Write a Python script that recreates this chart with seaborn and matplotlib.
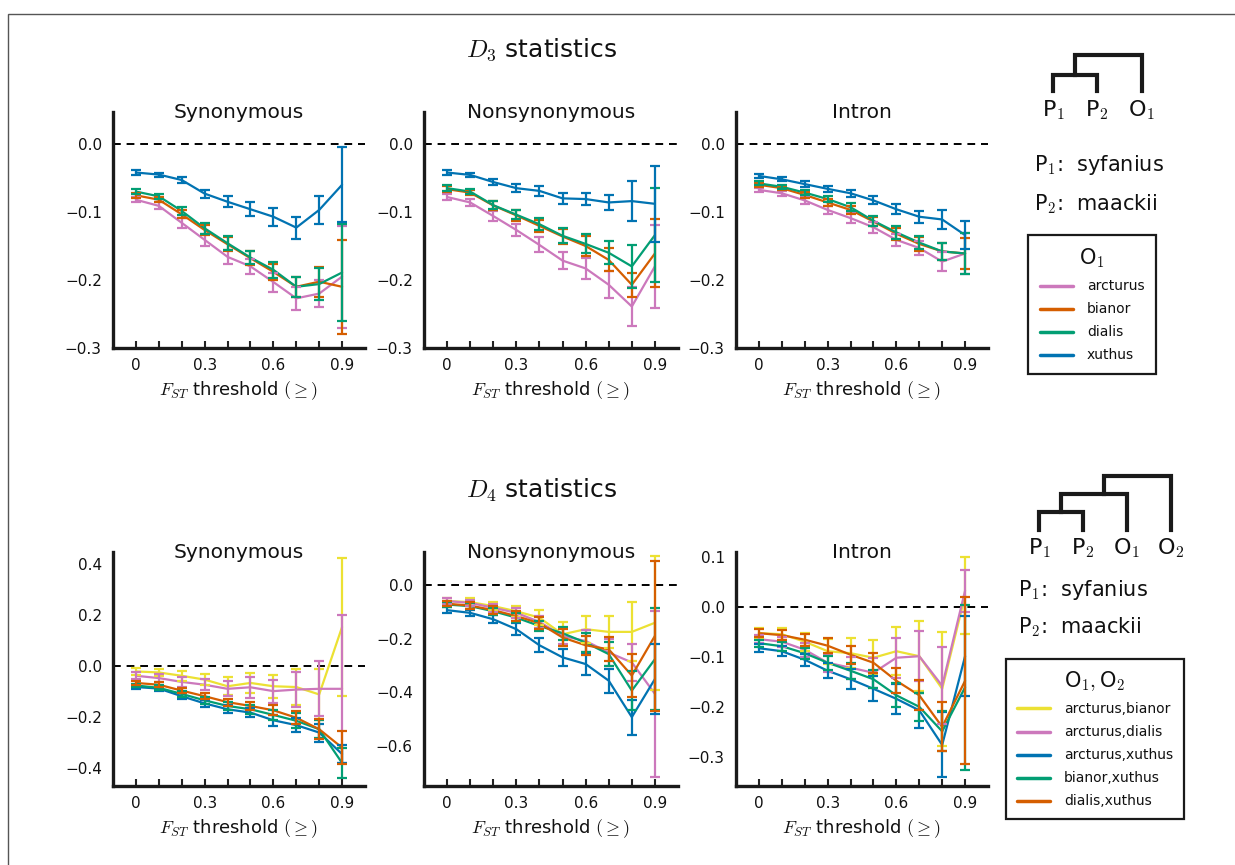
import matplotlib
matplotlib.use('Agg')
import matplotlib.pyplot as plt
import pandas as pd
import seaborn as sns
from matplotlib.lines import Line2D
from matplotlib.patches import Rectangle


# ============================================
# Data
# ============================================
FST = [0.0, 0.1, 0.2, 0.3, 0.4, 0.5, 0.6, 0.7, 0.8, 0.9]
FST_LABELS = ['0', '', '', '0.3', '', '', '0.6', '', '', '0.9']
PANELS = ['Synonymous', 'Nonsynonymous', 'Intron']

D3_GROUPS = ['arcturus', 'bianor', 'dialis', 'xuthus']
D4_GROUPS = ['arcturus,bianor', 'arcturus,dialis', 'arcturus,xuthus',
             'bianor,xuthus', 'dialis,xuthus']

# D3 — rows follow D3_GROUPS
d3_syn = [
    [-0.082, -0.091, -0.116, -0.141, -0.166, -0.180, -0.203, -0.227, -0.220, -0.195],
    [-0.0755, -0.082, -0.1035, -0.1265, -0.1475, -0.168, -0.188, -0.210, -0.2025, -0.210],
    [-0.070, -0.077, -0.0985, -0.124, -0.146, -0.167, -0.185, -0.210, -0.206, -0.189],
    [-0.042, -0.045, -0.053, -0.073, -0.085, -0.096, -0.107, -0.123, -0.097, -0.060],
]
d3_syn_err = [
    [0.004, 0.005, 0.007, 0.009, 0.010, 0.011, 0.014, 0.017, 0.020, 0.075],
    [0.004, 0.004, 0.006, 0.008, 0.010, 0.010, 0.012, 0.015, 0.022, 0.069],
    [0.004, 0.004, 0.006, 0.008, 0.010, 0.010, 0.012, 0.015, 0.024, 0.071],
    [0.003, 0.003, 0.004, 0.006, 0.008, 0.010, 0.013, 0.016, 0.020, 0.055],
]
d3_nonsyn = [
    [-0.078, -0.086, -0.106, -0.1265, -0.1485, -0.1715, -0.183, -0.207, -0.239, -0.180],
    [-0.0665, -0.0715, -0.0905, -0.105, -0.1205, -0.136, -0.150, -0.1705, -0.207, -0.161],
    [-0.065, -0.070, -0.090, -0.104, -0.118, -0.135, -0.147, -0.160, -0.180, -0.134],
    [-0.042, -0.0455, -0.056, -0.065, -0.069, -0.080, -0.081, -0.086, -0.084, -0.088],
]
d3_nonsyn_err = [
    [0.004, 0.005, 0.007, 0.009, 0.011, 0.012, 0.016, 0.020, 0.029, 0.061],
    [0.004, 0.004, 0.006, 0.008, 0.009, 0.011, 0.014, 0.017, 0.018, 0.050],
    [0.004, 0.004, 0.006, 0.007, 0.009, 0.011, 0.014, 0.017, 0.032, 0.069],
    [0.003, 0.003, 0.004, 0.006, 0.007, 0.008, 0.009, 0.011, 0.030, 0.056],
]
d3_intron = [
    [-0.0675, -0.0725, -0.083, -0.097, -0.109, -0.1225, -0.141, -0.153, -0.173, -0.161],
    [-0.060, -0.065, -0.075, -0.086, -0.097, -0.114, -0.132, -0.147, -0.158, -0.161],
    [-0.058, -0.063, -0.0715, -0.081, -0.093, -0.113, -0.130, -0.145, -0.158, -0.161],
    [-0.047, -0.052, -0.059, -0.066, -0.0725, -0.083, -0.096, -0.107, -0.111, -0.134],
]
d3_intron_err = [
    [0.003, 0.004, 0.005, 0.006, 0.007, 0.008, 0.009, 0.010, 0.014, 0.030],
    [0.003, 0.003, 0.004, 0.005, 0.006, 0.007, 0.009, 0.010, 0.012, 0.023],
    [0.003, 0.003, 0.004, 0.005, 0.006, 0.007, 0.009, 0.010, 0.012, 0.030],
    [0.003, 0.003, 0.004, 0.004, 0.005, 0.006, 0.007, 0.009, 0.014, 0.021],
]

# D4 — rows follow D4_GROUPS
d4_syn = [
    [-0.022, -0.026, -0.039, -0.054, -0.080, -0.067, -0.080, -0.083, -0.112, 0.152],
    [-0.039, -0.048, -0.063, -0.074, -0.090, -0.084, -0.099, -0.093, -0.090, -0.090],
    [-0.083, -0.089, -0.119, -0.147, -0.170, -0.183, -0.213, -0.232, -0.261, -0.345],
    [-0.077, -0.086, -0.110, -0.135, -0.157, -0.170, -0.192, -0.215, -0.248, -0.380],
    [-0.067, -0.074, -0.097, -0.119, -0.142, -0.157, -0.174, -0.203, -0.248, -0.320],
]
d4_syn_err = [
    [0.013, 0.015, 0.020, 0.023, 0.035, 0.040, 0.045, 0.070, 0.100, 0.270],
    [0.013, 0.015, 0.018, 0.022, 0.030, 0.040, 0.045, 0.070, 0.107, 0.290],
    [0.008, 0.010, 0.012, 0.015, 0.016, 0.018, 0.022, 0.028, 0.035, 0.035],
    [0.007, 0.009, 0.011, 0.013, 0.015, 0.017, 0.020, 0.030, 0.035, 0.060],
    [0.008, 0.009, 0.011, 0.012, 0.014, 0.015, 0.020, 0.025, 0.040, 0.065],
]
d4_nonsyn = [
    [-0.060, -0.064, -0.079, -0.098, -0.122, -0.184, -0.165, -0.175, -0.175, -0.141],
    [-0.060, -0.067, -0.085, -0.104, -0.138, -0.190, -0.209, -0.252, -0.289, -0.406],
    [-0.094, -0.104, -0.128, -0.165, -0.225, -0.270, -0.295, -0.357, -0.493, -0.351],
    [-0.073, -0.079, -0.098, -0.122, -0.153, -0.180, -0.215, -0.258, -0.394, -0.277],
    [-0.070, -0.077, -0.094, -0.116, -0.143, -0.196, -0.225, -0.240, -0.338, -0.190],
]
d4_nonsyn_err = [
    [0.012, 0.014, 0.016, 0.020, 0.027, 0.045, 0.050, 0.060, 0.110, 0.250],
    [0.010, 0.012, 0.015, 0.018, 0.022, 0.030, 0.040, 0.050, 0.070, 0.310],
    [0.010, 0.012, 0.015, 0.022, 0.026, 0.032, 0.040, 0.045, 0.065, 0.130],
    [0.008, 0.010, 0.013, 0.016, 0.020, 0.025, 0.035, 0.045, 0.074, 0.190],
    [0.010, 0.012, 0.015, 0.018, 0.022, 0.030, 0.035, 0.045, 0.080, 0.280],
]
d4_intron = [
    [-0.052, -0.054, -0.069, -0.088, -0.092, -0.101, -0.088, -0.098, -0.163, 0.023],
    [-0.064, -0.069, -0.085, -0.111, -0.121, -0.131, -0.101, -0.098, -0.157, 0.033],
    [-0.082, -0.088, -0.105, -0.127, -0.144, -0.163, -0.183, -0.206, -0.275, -0.098],
    [-0.072, -0.078, -0.092, -0.111, -0.127, -0.144, -0.176, -0.199, -0.248, -0.160],
    [-0.052, -0.056, -0.065, -0.077, -0.095, -0.111, -0.147, -0.176, -0.239, -0.147],
]
d4_intron_err = [
    [0.010, 0.012, 0.018, 0.025, 0.030, 0.035, 0.048, 0.070, 0.114, 0.077],
    [0.008, 0.010, 0.014, 0.018, 0.022, 0.030, 0.040, 0.050, 0.077, 0.042],
    [0.008, 0.010, 0.012, 0.015, 0.020, 0.025, 0.030, 0.035, 0.065, 0.080],
    [0.007, 0.009, 0.011, 0.014, 0.016, 0.018, 0.024, 0.028, 0.040, 0.165],
    [0.008, 0.010, 0.012, 0.015, 0.018, 0.020, 0.025, 0.030, 0.049, 0.167],
]

D3_YTICKS = [[-0.3, -0.2, -0.1, 0.0]] * 3
D4_YTICKS = [[-0.4, -0.2, 0.0, 0.2, 0.4],
             [-0.6, -0.4, -0.2, 0.0],
             [-0.3, -0.2, -0.1, 0.0, 0.1]]


# ============================================
# Style
# ============================================
sns.set_theme(style='ticks')
plt.rcParams['font.family'] = ['DejaVu Sans']
plt.rcParams['mathtext.fontset'] = 'cm'
plt.rcParams['axes.unicode_minus'] = True
plt.rcParams['text.color'] = '#111111'
plt.rcParams['axes.labelcolor'] = '#111111'
plt.rcParams['xtick.labelcolor'] = '#111111'
plt.rcParams['ytick.labelcolor'] = '#111111'

cb = sns.color_palette('colorblind')
D3_COLORS = {'arcturus': cb[4], 'bianor': cb[3], 'dialis': cb[2], 'xuthus': cb[0]}
D4_COLORS = {'arcturus,bianor': cb[8], 'arcturus,dialis': cb[4],
             'arcturus,xuthus': cb[0], 'bianor,xuthus': cb[2],
             'dialis,xuthus': cb[3]}

W, H = 1235, 865
fig = plt.figure(figsize=(W / 100, H / 100), dpi=100)


def px_axes(left, top, right, bottom):
    return fig.add_axes([left / W, 1 - bottom / H,
                         (right - left) / W, (bottom - top) / H])


def draw_panel(ax, means, errs, groups, colors, title, ylim, yticks):
    rows = []
    for g, m in zip(groups, means):
        for x, y in zip(FST, m):
            rows.append({'fst': x, 'D': y, 'group': g})
    df = pd.DataFrame(rows)

    ax.axhline(0, color='black', ls='--', lw=1.4, dashes=(4, 3), zorder=0)
    sns.lineplot(data=df, x='fst', y='D', hue='group', hue_order=groups,
                 palette=colors, errorbar=None, lw=1.6, legend=False, ax=ax)
    for g, m, e in zip(groups, means, errs):
        ax.errorbar(FST, m, yerr=e, fmt='none', ecolor=colors[g],
                    elinewidth=1.6, capsize=3.5, capthick=1.6)

    ax.set_xlim(-0.1, 1.0)
    ax.set_ylim(*ylim)
    ax.set_xticks(FST)
    ax.set_xticklabels(FST_LABELS)
    ax.set_yticks(yticks)
    ax.tick_params(axis='x', direction='in', length=5, width=1.5,
                   labelsize=11, pad=7, color='#222222')
    ax.tick_params(axis='y', length=0, labelsize=11, pad=8)
    for side in ['top', 'right']:
        ax.spines[side].set_visible(False)
    for side in ['left', 'bottom']:
        ax.spines[side].set_linewidth(2.4)
        ax.spines[side].set_color('#1a1a1a')
    ax.set_xlabel(r'$F_{ST}$ threshold $(\geq)$', fontsize=13, labelpad=5)
    ax.set_ylabel('')
    ax.set_title(title, fontsize=14.5, y=0.975, pad=0)


# ============================================
# Panels
# ============================================
cols = [(113, 365), (424, 678), (736, 988)]

d3_means = [d3_syn, d3_nonsyn, d3_intron]
d3_errs = [d3_syn_err, d3_nonsyn_err, d3_intron_err]
for (l, r), title, m, e, yt in zip(cols, PANELS, d3_means, d3_errs, D3_YTICKS):
    ax = px_axes(l, 112, r, 348)
    draw_panel(ax, m, e, D3_GROUPS, D3_COLORS, title, (-0.3, 0.047), yt)

d4_means = [d4_syn, d4_nonsyn, d4_intron]
d4_errs = [d4_syn_err, d4_nonsyn_err, d4_intron_err]
d4_ylims = [(-0.47, 0.445), (-0.75, 0.123), (-0.357, 0.11)]
for (l, r), title, m, e, yl, yt in zip(cols, PANELS, d4_means, d4_errs,
                                        d4_ylims, D4_YTICKS):
    ax = px_axes(l, 552, r, 786)
    draw_panel(ax, m, e, D4_GROUPS, D4_COLORS, title, yl, yt)

fig.text(542 / W, 1 - 50 / H, r'$D_3$ statistics', ha='center', va='center',
         fontsize=18)
fig.text(542 / W, 1 - 490 / H, r'$D_4$ statistics', ha='center', va='center',
         fontsize=18)


# ============================================
# Trees + species text (overlay in pixel coords)
# ============================================
ov = fig.add_axes([0, 0, 1, 1], zorder=-1)
ov.set_xlim(0, W)
ov.set_ylim(H, 0)
ov.axis('off')

tree_kw = dict(color='#1a1a1a', lw=3, solid_capstyle='projecting',
               solid_joinstyle='miter')

# ((P1,P2),O1)
ov.plot([1053, 1053, 1097, 1097], [91, 75, 75, 91], **tree_kw)
ov.plot([1075, 1075, 1142, 1142], [75, 55, 55, 91], **tree_kw)
for x, lab in zip([1053, 1097, 1142], ['P$_1$', 'P$_2$', 'O$_1$']):
    ov.text(x, 110, lab, ha='center', va='center', fontsize=16)

# (((P1,P2),O1),O2)
ov.plot([1039, 1039, 1083, 1083], [530, 512, 512, 530], **tree_kw)
ov.plot([1061, 1061, 1127, 1127], [512, 494, 494, 530], **tree_kw)
ov.plot([1104, 1104, 1171, 1171], [494, 476, 476, 530], **tree_kw)
for x, lab in zip([1039, 1083, 1127, 1171], ['P$_1$', 'P$_2$', 'O$_1$', 'O$_2$']):
    ov.text(x, 548, lab, ha='center', va='center', fontsize=16)

for y, lab in zip([165, 204], ['P$_1$:  syfanius', 'P$_2$:  maackii']):
    ov.text(1034, y, lab, ha='left', va='center', fontsize=15)
for y, lab in zip([590, 627], ['P$_1$:  syfanius', 'P$_2$:  maackii']):
    ov.text(1018, y, lab, ha='left', va='center', fontsize=15)

# figure frame (clipped at right/bottom like the original)
fig.patches.append(Rectangle((8 / W, -0.1), 1.2, 1 - 14 / H + 0.1,
                             transform=fig.transFigure, fill=False,
                             edgecolor='#555555', lw=1.0))


# ============================================
# Legends
# ============================================
def make_legend(groups, colors, title, cx, top, pad):
    handles = [Line2D([0], [0], color=colors[g], lw=2.5) for g in groups]
    leg = fig.legend(handles, groups, title=title, loc='upper center',
                     bbox_to_anchor=(cx / W, 1 - top / H), fontsize=10,
                     title_fontsize=15, frameon=True, fancybox=False,
                     framealpha=1, edgecolor='#1a1a1a', handlelength=2.4,
                     labelspacing=0.65, borderpad=pad, handletextpad=1.0,
                     borderaxespad=0)
    leg.get_frame().set_linewidth(1.6)
    return leg


make_legend(D3_GROUPS, D3_COLORS, 'O$_1$', 1092, 235, 0.85)
make_legend(D4_GROUPS, D4_COLORS, 'O$_1,$O$_2$', 1095, 659, 0.75)

fig.savefig('out.png', dpi=100)
